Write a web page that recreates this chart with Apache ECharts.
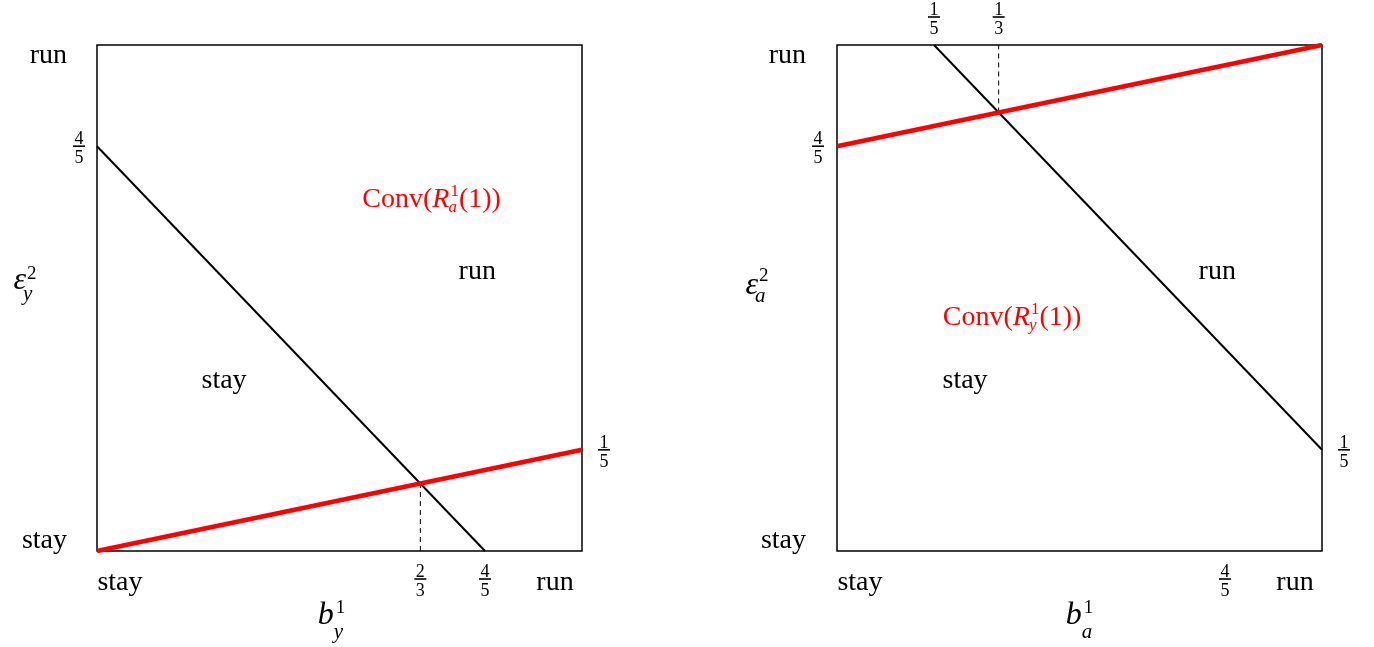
<!DOCTYPE html>
<html>
<head>
<meta charset="utf-8">
<script src="https://cdn.jsdelivr.net/npm/echarts@6/dist/echarts.min.js"></script>
<style>
  html, body { margin: 0; padding: 0; background: #fff; }
  #chart { width: 1374px; height: 647px; }
</style>
</head>
<body>
<div id="chart"></div>
<script>
// ---- Data: left panel (b_y^1 against eps_y^2) ----
const leftBlack = [[0, 4/5], [4/5, 0]];
const leftRed   = [[0, 0], [1, 1/5]];
const leftDash  = [[2/3, 0], [2/3, 2/15]];

// ---- Data: right panel (b_a^1 against eps_a^2) ----
const rightBlack = [[1/5, 1], [1, 1/5]];
const rightRed   = [[0, 4/5], [1, 1]];
const rightDash  = [[1/3, 13/15], [1/3, 1]];

// ---- Tick values and their labels ----
const leftXTicks = [0, 2/3, 4/5, 1];
const leftXLabels = ['stay', '2/3', '4/5', 'run'];
const leftYTicks = [0, 4/5, 1];
const leftYLabels = ['stay', '4/5', 'run'];
const leftYRightTicks = [1/5];
const leftYRightLabels = ['1/5'];

const rightXTicks = [0, 4/5, 1];
const rightXLabels = ['stay', '4/5', 'run'];
const rightXTopTicks = [1/5, 1/3];
const rightXTopLabels = ['1/5', '1/3'];
const rightYTicks = [0, 4/5, 1];
const rightYLabels = ['stay', '4/5', 'run'];
const rightYRightTicks = [1/5];
const rightYRightLabels = ['1/5'];

const FONT = '"Liberation Serif", "DejaVu Serif", serif';
const WORD = 28;
const RED = '#ff0000';

// Word labels sit a little inside the frame corners.
const richStyles = {
  bottomLo: { fontFamily: FONT, fontSize: WORD, color: '#000', lineHeight: 30, padding: [11, 0, 0, 46] },
  bottomHi: { fontFamily: FONT, fontSize: WORD, color: '#000', lineHeight: 30, padding: [11, 54, 0, 0] },
  leftLo:   { fontFamily: FONT, fontSize: WORD, color: '#000', lineHeight: 30, padding: [0, 18, 20, 0] },
  leftHi:   { fontFamily: FONT, fontSize: WORD, color: '#000', lineHeight: 30, padding: [22, 18, 0, 0] }
};

const isFraction = s => s.indexOf('/') >= 0;

// Axis labels carry the words; fractions are drawn as stacked graphics below.
function wordFormatter(ticks, labels, side) {
  return function (v) {
    const i = ticks.findIndex(t => Math.abs(t - v) < 1e-9);
    if (i < 0 || isFraction(labels[i])) return '';
    return '{' + side + (v <= 0 ? 'Lo' : 'Hi') + '|' + labels[i] + '}';
  };
}

function valueAxis(extra, ticks, labels, side, margin) {
  const wordTicks = ticks.filter((t, i) => !isFraction(labels[i]));
  return Object.assign({
    type: 'value', min: 0, max: 1,
    axisLine: { show: false },
    axisTick: { show: false },
    splitLine: { show: false },
    axisLabel: {
      show: wordTicks.length > 0,
      customValues: wordTicks,
      margin: margin,
      formatter: wordFormatter(ticks, labels, side),
      rich: richStyles
    }
  }, extra);
}

function lineSeries(data, xi, yi, color, width, type, z) {
  return {
    type: 'line', data: data, xAxisIndex: xi, yAxisIndex: yi,
    showSymbol: false, symbol: 'none', silent: true, z: z,
    lineStyle: { color: color, width: width, type: type },
    animation: false
  };
}

const chart = echarts.init(document.getElementById('chart'), null, { renderer: 'canvas' });

const frame = {
  show: true, borderColor: '#000', borderWidth: 1.5, backgroundColor: 'transparent',
  containLabel: false, outerBoundsMode: 'none'
};

chart.setOption({
  animation: false,
  backgroundColor: '#fff',
  grid: [
    Object.assign({ left: 97, top: 45, width: 485, height: 506 }, frame),
    Object.assign({ left: 837, top: 45, width: 485, height: 506 }, frame)
  ],
  xAxis: [
    valueAxis({ gridIndex: 0, position: 'bottom' }, leftXTicks, leftXLabels, 'bottom', 11),
    valueAxis({ gridIndex: 1, position: 'bottom' }, rightXTicks, rightXLabels, 'bottom', 11)
  ],
  yAxis: [
    valueAxis({ gridIndex: 0, position: 'left' }, leftYTicks, leftYLabels, 'left', 12),
    valueAxis({ gridIndex: 1, position: 'left' }, rightYTicks, rightYLabels, 'left', 13)
  ],
  series: [
    lineSeries(leftDash, 0, 0, '#000', 1, [5, 4], 2),
    lineSeries(leftBlack, 0, 0, '#000', 2, 'solid', 3),
    lineSeries(leftRed, 0, 0, RED, 4.5, 'solid', 4),
    lineSeries(rightDash, 1, 1, '#000', 1, [5, 4], 2),
    lineSeries(rightBlack, 1, 1, '#000', 2, 'solid', 3),
    lineSeries(rightRed, 1, 1, RED, 4.5, 'solid', 4)
  ]
});

function px(grid, pt) { return chart.convertToPixel({ gridIndex: grid }, pt); }
const g0 = chart.getModel().getComponent('grid', 0).coordinateSystem.getRect();
const g1 = chart.getModel().getComponent('grid', 1).coordinateSystem.getRect();

// ---- Stacked fractions (numerator / bar / denominator) ----
function fraction(x, y, label) {
  const parts = label.split('/');
  const txt = t => ({
    fontFamily: FONT, fontSize: 18, fill: '#000', text: t,
    align: 'center', verticalAlign: 'middle'
  });
  return {
    type: 'group', x: x, y: y, silent: true,
    children: [
      { type: 'rect', shape: { x: -6, y: -0.8, width: 12, height: 1.6 }, style: { fill: '#000' } },
      { type: 'text', x: 0, y: -7, style: txt(parts[0]) },
      { type: 'text', x: 0, y: 12, style: txt(parts[1]) }
    ]
  };
}
function fractionsAlongX(grid, ticks, labels, yPix) {
  const out = [];
  ticks.forEach((t, i) => {
    if (isFraction(labels[i])) out.push(fraction(px(grid, [t, 0])[0], yPix, labels[i]));
  });
  return out;
}
function fractionsAlongY(grid, ticks, labels, xPix) {
  const out = [];
  ticks.forEach((t, i) => {
    if (isFraction(labels[i])) out.push(fraction(xPix, px(grid, [0, t])[1], labels[i]));
  });
  return out;
}

// ---- Math-style text (italic symbols with stacked sub/superscripts) ----
const measureCtx = document.createElement('canvas').getContext('2d');
function measure(t, size, it) {
  measureCtx.font = (it ? 'italic ' : '') + size + 'px ' + FONT;
  return measureCtx.measureText(t).width;
}
function mathText(cx, cy, runs, color) {
  const kids = [];
  let x = 0;
  runs.forEach(r => {
    const items = r.stack || [r];
    let w = 0;
    items.forEach(p => {
      const dx = p.dx || 0;
      kids.push({
        type: 'text', x: x + dx, y: p.dy || 0, silent: true,
        style: {
          text: p.t, fontFamily: FONT, fontSize: p.size,
          fontStyle: p.it ? 'italic' : 'normal',
          fill: color, align: 'left', verticalAlign: 'middle'
        }
      });
      w = Math.max(w, measure(p.t, p.size, p.it) + dx);
    });
    x += w + (r.kern || 0);
  });
  return { type: 'group', x: cx - x / 2, y: cy, children: kids, silent: true };
}

const graphics = [];

// fraction tick labels
const below0 = g0.y + g0.height + 28, below1 = g1.y + g1.height + 28;
graphics.push(...fractionsAlongX(0, leftXTicks, leftXLabels, below0));
graphics.push(...fractionsAlongY(0, leftYTicks, leftYLabels, g0.x - 18));
graphics.push(...fractionsAlongY(0, leftYRightTicks, leftYRightLabels, g0.x + g0.width + 22));
graphics.push(...fractionsAlongX(1, rightXTicks, rightXLabels, below1));
graphics.push(...fractionsAlongX(1, rightXTopTicks, rightXTopLabels, g1.y - 28));
graphics.push(...fractionsAlongY(1, rightYTicks, rightYLabels, g1.x - 19));
graphics.push(...fractionsAlongY(1, rightYRightTicks, rightYRightLabels, g1.x + g1.width + 22));

// axis titles
graphics.push(mathText(g0.x - 72, g0.y + g0.height / 2 - 17, [
  { t: 'ε', size: 32, it: true },
  { stack: [ { t: '2', size: 19, dy: -7, dx: 1 }, { t: 'y', size: 21, it: true, dy: 13, dx: -3 } ] }
], '#000'));
graphics.push(mathText(g1.x - 80, g1.y + g1.height / 2 - 12, [
  { t: 'ε', size: 32, it: true },
  { stack: [ { t: '2', size: 19, dy: -10, dx: 1 }, { t: 'a', size: 21, it: true, dy: 10, dx: -3 } ] }
], '#000'));
graphics.push(mathText(g0.x + g0.width / 2 - 8, g0.y + g0.height + 65, [
  { t: 'b', size: 32, it: true },
  { stack: [ { t: '1', size: 19, dy: -8, dx: 2 }, { t: 'y', size: 21, it: true, dy: 16, dx: 0 } ] }
], '#000'));
graphics.push(mathText(g1.x + g1.width / 2, g1.y + g1.height + 65, [
  { t: 'b', size: 32, it: true },
  { stack: [ { t: '1', size: 19, dy: -8, dx: 2 }, { t: 'a', size: 21, it: true, dy: 16, dx: 0 } ] }
], '#000'));

// region annotations
function word(grid, pt, text, color) {
  const p = px(grid, pt);
  return {
    type: 'text', x: p[0], y: p[1], silent: true,
    style: { text: text, fontFamily: FONT, fontSize: WORD, fill: color, align: 'center', verticalAlign: 'middle' }
  };
}
function convLabel(grid, pt, sub) {
  const p = px(grid, pt);
  return mathText(p[0], p[1], [
    { t: 'Conv(', size: WORD },
    { t: 'R', size: WORD, it: true },
    { stack: [ { t: '1', size: 17, dy: -8, dx: 1 }, { t: sub, size: 17, it: true, dy: 8, dx: -1 } ] },
    { t: '(1))', size: WORD }
  ], RED);
}

graphics.push(convLabel(0, [0.69, 0.694], 'a'));
graphics.push(word(0, [0.784, 0.553], 'run', '#000'));
graphics.push(word(0, [0.262, 0.336], 'stay', '#000'));
graphics.push(word(1, [0.784, 0.553], 'run', '#000'));
graphics.push(convLabel(1, [0.361, 0.462], 'y'));
graphics.push(word(1, [0.264, 0.336], 'stay', '#000'));

chart.setOption({ graphic: graphics });
</script>
</body>
</html>
